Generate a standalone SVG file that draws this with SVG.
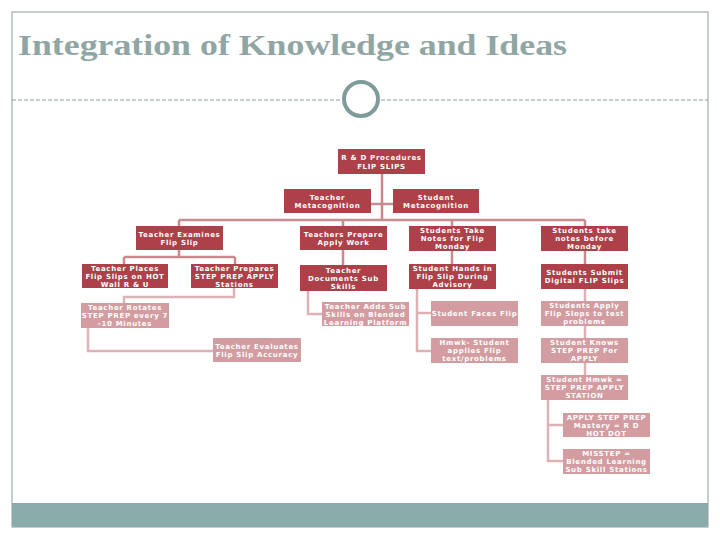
<svg xmlns="http://www.w3.org/2000/svg" width="720" height="540" viewBox="0 0 720 540">
<style>
.dk{fill:#ad4048}
.lt{fill:#d39ca0}
.t{font-family:"DejaVu Sans",Verdana,sans-serif;font-size:7px;font-weight:bold;fill:#ffffff;text-anchor:middle;letter-spacing:0.7px}
.c1{fill:none;stroke:#c98a8e;stroke-width:2.5}
.c2{fill:none;stroke:#ddb2b4;stroke-width:2.5}
</style>
<rect x="0" y="0" width="720" height="540" fill="#ffffff"/>
<rect x="12" y="12" width="696" height="515" fill="none" stroke="#8a9e9d" stroke-width="1"/>
<rect x="12" y="503" width="696" height="24" fill="#8aacab"/>
<text x="18" y="55" font-family="'Liberation Serif',Georgia,serif" font-size="30" font-weight="bold" fill="#8fa6a5" textLength="549" lengthAdjust="spacingAndGlyphs">Integration of Knowledge and Ideas</text>
<g stroke="#8a9e9e" stroke-width="1" stroke-dasharray="4 2">
<line x1="12" y1="100" x2="341" y2="100"/>
<line x1="381" y1="100" x2="708" y2="100"/>
</g>
<circle cx="361" cy="99" r="17" fill="none" stroke="#7f9b9b" stroke-width="4"/>

<g id="connectors">
<path class="c1" d="M382 174V220M371 204H393M179 220H585M179 220V226M343 220V226M452 220V226M585 220V226M179 250V257M124 257H235M124 257V264M235 257V264M343 250V265M452 251V264M585 251V264"/>
<path class="c2" d="M234 288V297H124V303M88 328V351H213M308 291V314H322M417 289V351H431M417 313H431M585 289V301M585 326V338M585 363V375M548 400V461H563M548 425H563"/>
</g>

<g id="n-root"><rect class="dk" x="338" y="149" width="87" height="25"/><text class="t" x="381.5" y="160">R &amp; D Procedures</text><text class="t" x="381.5" y="169">FLIP SLIPS</text></g>
<g id="n-tm"><rect class="dk" x="284" y="189" width="87" height="24"/><text class="t" x="327.5" y="199.5">Teacher</text><text class="t" x="327.5" y="207.5">Metacognition</text></g>
<g id="n-sm"><rect class="dk" x="393" y="189" width="86" height="24"/><text class="t" x="436" y="199.5">Student</text><text class="t" x="436" y="207.5">Metacognition</text></g>

<g id="n-te"><rect class="dk" x="136" y="226" width="87" height="24"/><text class="t" x="179.5" y="236.5">Teacher Examines</text><text class="t" x="179.5" y="244.5">Flip Slip</text></g>
<g id="n-tp"><rect class="dk" x="300" y="226" width="87" height="24"/><text class="t" x="343.5" y="236.5">Teachers Prepare</text><text class="t" x="343.5" y="244.5">Apply Work</text></g>
<g id="n-stn"><rect class="dk" x="409" y="226" width="87" height="25"/><text class="t" x="452.5" y="233">Students Take</text><text class="t" x="452.5" y="241">Notes for Flip</text><text class="t" x="452.5" y="249">Monday</text></g>
<g id="n-stb"><rect class="dk" x="541" y="226" width="87" height="25"/><text class="t" x="584.5" y="233">Students take</text><text class="t" x="584.5" y="241">notes before</text><text class="t" x="584.5" y="249">Monday</text></g>

<g id="n-tpl"><rect class="dk" x="82" y="264" width="86" height="24"/><text class="t" x="125" y="271">Teacher Places</text><text class="t" x="125" y="279">Flip Slips on HOT</text><text class="t" x="125" y="287">Wall R &amp; U</text></g>
<g id="n-tps"><rect class="dk" x="191" y="264" width="87" height="24"/><text class="t" x="234.5" y="271">Teacher Prepares</text><text class="t" x="234.5" y="279">STEP PREP  APPLY</text><text class="t" x="234.5" y="287">Stations</text></g>
<g id="n-td"><rect class="dk" x="300" y="265" width="87" height="26"/><text class="t" x="343.5" y="272.5">Teacher</text><text class="t" x="343.5" y="280.5">Documents Sub</text><text class="t" x="343.5" y="288.5">Skills</text></g>
<g id="n-sh"><rect class="dk" x="409" y="264" width="87" height="25"/><text class="t" x="452.5" y="271">Student Hands in</text><text class="t" x="452.5" y="279">Flip Slip During</text><text class="t" x="452.5" y="287">Advisory</text></g>
<g id="n-ss"><rect class="dk" x="541" y="264" width="87" height="25"/><text class="t" x="584.5" y="275">Students Submit</text><text class="t" x="584.5" y="283">Digital FLIP Slips</text></g>

<g id="n-tr"><rect class="lt" x="81" y="303" width="88" height="25"/><text class="t" x="125" y="310">Teacher Rotates</text><text class="t" x="125" y="318">STEP PREP every 7</text><text class="t" x="125" y="326">-10 Minutes</text></g>
<g id="n-tev"><rect class="lt" x="213" y="338" width="88" height="24"/><text class="t" x="257" y="348.5">Teacher Evaluates</text><text class="t" x="257" y="356.5">Flip Slip  Accuracy</text></g>
<g id="n-ta"><rect class="lt" x="322" y="302" width="87" height="24"/><text class="t" x="365.5" y="308.5">Teacher Adds Sub</text><text class="t" x="365.5" y="316.5">Skills on Blended</text><text class="t" x="365.5" y="324.5">Learning Platform</text></g>
<g id="n-sf"><rect class="lt" x="431" y="301" width="87" height="25"/><text class="t" x="474.5" y="316">Student Faces Flip</text></g>
<g id="n-hw"><rect class="lt" x="431" y="338" width="87" height="25"/><text class="t" x="474.5" y="345">Hmwk- Student</text><text class="t" x="474.5" y="353">applies Flip</text><text class="t" x="474.5" y="361">text/problems</text></g>
<g id="n-sa"><rect class="lt" x="541" y="301" width="87" height="25"/><text class="t" x="584.5" y="308">Students Apply</text><text class="t" x="584.5" y="316">Flip Slops to test</text><text class="t" x="584.5" y="324">problems</text></g>
<g id="n-sk"><rect class="lt" x="541" y="338" width="87" height="25"/><text class="t" x="584.5" y="345">Student Knows</text><text class="t" x="584.5" y="353">STEP PREP  For</text><text class="t" x="584.5" y="361">APPLY</text></g>
<g id="n-shw"><rect class="lt" x="541" y="375" width="87" height="25"/><text class="t" x="584.5" y="382">Student Hmwk =</text><text class="t" x="584.5" y="390">STEP PREP APPLY</text><text class="t" x="584.5" y="398">STATION</text></g>
<g id="n-ap"><rect class="lt" x="563" y="413" width="87" height="24"/><text class="t" x="606.5" y="419.5">APPLY STEP PREP</text><text class="t" x="606.5" y="427.5">Mastery = R D</text><text class="t" x="606.5" y="435.5">HOT DOT</text></g>
<g id="n-ms"><rect class="lt" x="563" y="449" width="87" height="25"/><text class="t" x="606.5" y="456">MISSTEP  =</text><text class="t" x="606.5" y="464">Blended Learning</text><text class="t" x="606.5" y="472">Sub Skill Stations</text></g>
</svg>
